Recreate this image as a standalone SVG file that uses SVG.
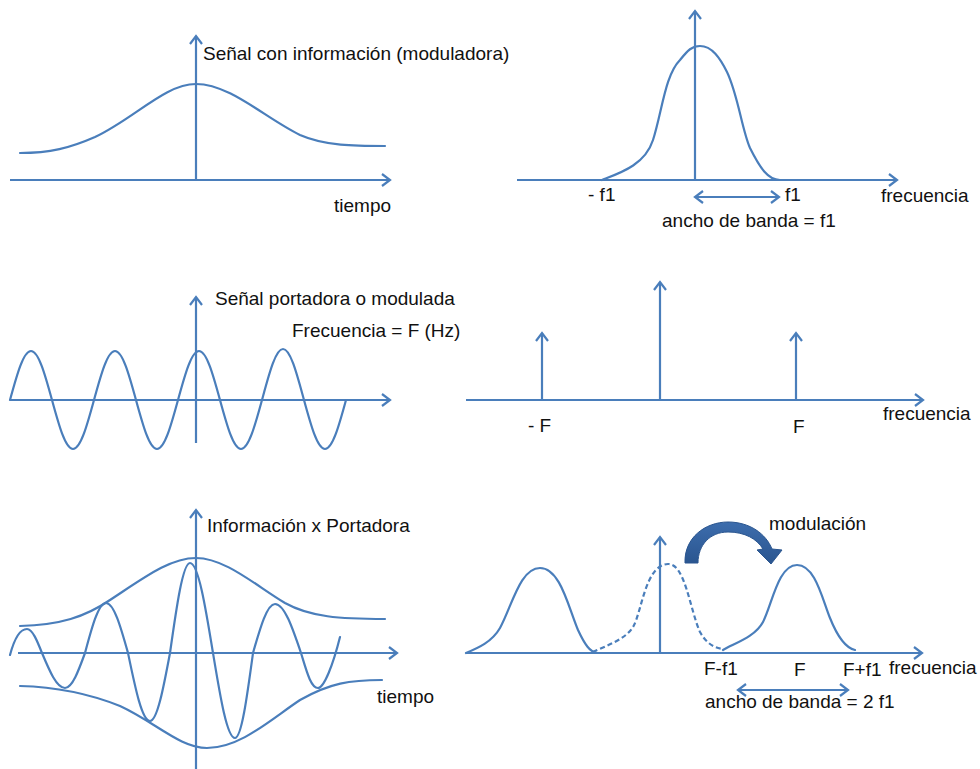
<svg xmlns="http://www.w3.org/2000/svg" width="980" height="769" viewBox="0 0 980 769">
<style>
.ln{fill:none;stroke:#4A7EBB;stroke-width:2.2;stroke-linejoin:round;stroke-linecap:round}
.ax{fill:none;stroke:#4A7EBB;stroke-width:2.2;marker-end:url(#ah)}
.dbl{fill:none;stroke:#4A7EBB;stroke-width:2.2;marker-end:url(#ah);marker-start:url(#ah)}
.dash{fill:none;stroke:#4A7EBB;stroke-width:2.2;stroke-dasharray:5 3}
text{font-family:"Liberation Sans",Arial,sans-serif;font-size:19px;fill:#111}
</style>
<defs>
<marker id="ah" markerUnits="userSpaceOnUse" markerWidth="14" markerHeight="16" refX="10" refY="8" orient="auto-start-reverse">
<path d="M2,2 L10,8 L2,14" fill="none" stroke="#4A7EBB" stroke-width="2.2"/>
</marker>
<linearGradient id="cg" x1="0" y1="0" x2="0" y2="1">
<stop offset="0" stop-color="#3D6DAD"/>
<stop offset="1" stop-color="#2A558F"/>
</linearGradient>
</defs>

<g id="panel-informacion">
<path class="ax" d="M10,180 H390"/>
<path class="ax" d="M196,180 V36"/>
<path class="ln" d="M20,153 C50,153 70,148 95,137 C135,118 165,84 196,84 C230,84 265,118 300,135 C325,146 355,146 385,146"/>
<text x="203" y="60">Señal con información (moduladora)</text>
<text x="334" y="212">tiempo</text>
</g>

<g id="panel-espectro-informacion">
<path class="ax" d="M517,180 H897"/>
<path class="ax" d="M695,180 V11"/>
<path class="ln" d="M602,180 C620,173 645,165 653,140 C662,112 665,75 680,60 C688,50 692,46 700,46 C712,46 720,58 727,72 C738,95 742,130 750,148 C760,168 768,180 780,180"/>
<path class="dbl" d="M695,197 H779"/>
<text x="588" y="201">- f1</text>
<text x="785" y="201">f1</text>
<text x="881" y="202">frecuencia</text>
<text x="662" y="227">ancho de banda = f1</text>
</g>

<g id="panel-portadora">
<path class="ax" d="M10,400 H390"/>
<path class="ax" d="M196,443 V297"/>
<path class="ln" d="M10,400 C16.85,374.9 23.4,351 31,351 C38.6,351 45.15,374.9 52,400 C58.85,425.1 65.4,449 73,449 C80.6,449 87.15,425.1 94,400 C100.85,374.9 107.4,351 115,351 C122.6,351 129.15,374.9 136,400 C142.85,425.1 149.4,449 157,449 C164.6,449 171.15,425.1 178,400 C184.85,374.9 191.4,351 199,351 C206.6,351 213.15,374.9 220,400 C226.85,425.1 233.4,449 241,449 C248.6,449 255.15,425.1 262,400 C268.85,374.9 275.4,349 283,349 C290.6,349 297.15,374.9 304,400 C310.85,425.1 317.4,449 325,449 C332.6,449 339.15,425.1 346,400"/>
<text x="215" y="305">Señal portadora o modulada</text>
<text x="292" y="337">Frecuencia  = F (Hz)</text>
</g>

<g id="panel-espectro-portadora">
<path class="ax" d="M466,400 H923"/>
<path class="ax" d="M660,400 V282"/>
<path class="ax" d="M542,400 V333"/>
<path class="ax" d="M796,400 V333"/>
<text x="528" y="432">- F</text>
<text x="793" y="433">F</text>
<text x="883" y="420">frecuencia</text>
</g>

<g id="panel-producto">
<path class="ax" d="M18,653 H397"/>
<path class="ax" d="M196,769 V510"/>
<path class="ln" d="M20,626 C60,625 85,617 110,600 C145,577 170,558 196,558 C225,558 255,585 285,603 C310,617 340,619 385,619"/>
<path class="ln" d="M20,686 C60,687 90,694 120,706 C155,722 180,748 207,748 C240,748 270,720 300,700 C330,683 350,680 382,680"/>
<path class="ln" d="M10,655 C14,640 20,629 27,629 C32.4,629 37.1,640.7 42,653 C49.5,670.9 56.7,688 65,688 C72.2,688 78.5,670.9 85,653 C91.8,627.4 98.4,603 106,603 C114,603 120.8,627.4 128,653 C135.2,687.8 142,721 150,721 C157.2,721 163.5,687.8 170,653 C176.5,606.9 182.8,563 190,563 C198.3,563 205.5,606.9 213,653 C220.2,696.5 227,738 235,738 C241.5,738 247.1,696.5 253,653 C260.2,627.9 267,604 275,604 C284.4,604 292.5,627.9 301,653 C306.5,670.9 310.8,688 318,688 C324,688 333,665 340,637"/>
<text x="207" y="532">Información x Portadora</text>
<text x="377" y="703">tiempo</text>
</g>

<g id="panel-espectro-modulado">
<path class="ax" d="M466,653 H922"/>
<path class="ax" d="M660,653 V537"/>
<path class="ln" d="M466,653 C478,648 492,642 500,628 C512,606 520,568 540,568 C560,568 568,606 578,630 C585,645 590,652 597,653"/>
<path class="dash" d="M593,652 C605,646 625,640 633,627 C642,612 645,565 668,564 C685,563 690,610 700,632 C706,643 714,648 723,649"/>
<path class="ln" d="M723,650 C735,643 755,637 763,622 C772,605 778,565 797,565 C815,565 822,598 830,618 C838,638 846,648 855,650"/>
<path d="M685,563 C684,538 705,522 728,522 C750,522 766,534 772,549 L782,550 L771,564 L757,550 L763,549 C757,539 745,532 728,532 C710,532 698,545 698,563 Z" fill="url(#cg)" stroke="#2A558F" stroke-width="1"/>
<path class="dbl" d="M738,690 H848"/>
<text x="769" y="530">modulación</text>
<text x="704" y="675">F-f1</text>
<text x="794" y="676">F</text>
<text x="843" y="676">F+f1</text>
<text x="889" y="674">frecuencia</text>
<text x="705" y="708">ancho de banda = 2 f1</text>
</g>
</svg>
